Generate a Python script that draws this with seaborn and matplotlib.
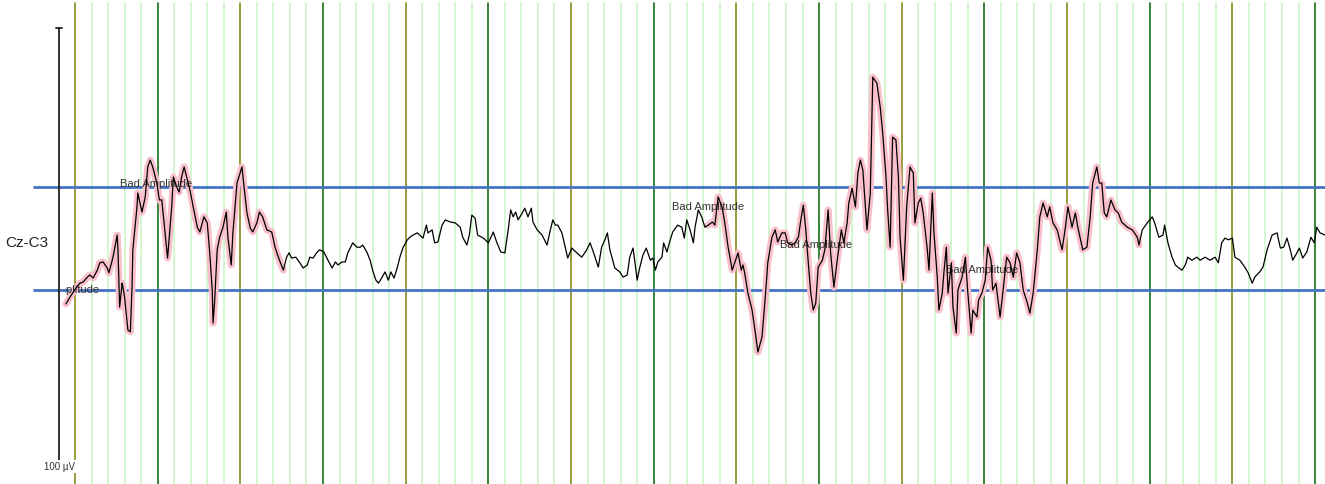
import numpy as np
import pandas as pd
import matplotlib
matplotlib.use("Agg")
import matplotlib.pyplot as plt
import seaborn as sns
from matplotlib.patches import Rectangle

# =========================
# DATA
# =========================

channel = "Cz-C3"
scale_uv = 100            # calibration bar height
threshold_uv = 11.9       # +/- amplitude threshold lines

time_s = [
    -0.11, -0.06, -0.02, 0.02, 0.06, 0.10, 0.15, 0.18, 0.22, 0.27, 0.30, 0.34, 0.39, 0.41,
    0.46, 0.51, 0.52, 0.54, 0.57, 0.58, 0.60, 0.64, 0.67, 0.69, 0.70, 0.75, 0.76, 0.81,
    0.85, 0.88, 0.91, 0.94, 0.99, 1.02, 1.05, 1.09, 1.12, 1.17, 1.19, 1.23, 1.26, 1.29,
    1.32, 1.35, 1.39, 1.43, 1.48, 1.51, 1.56, 1.60, 1.63, 1.66, 1.67, 1.69, 1.72, 1.75,
    1.79, 1.83, 1.85, 1.89, 1.91, 1.96, 2.00, 2.02, 2.04, 2.08, 2.12, 2.15, 2.20, 2.23,
    2.27, 2.32, 2.38, 2.42, 2.46, 2.52,
    2.56, 2.59, 2.62, 2.67, 2.72, 2.76, 2.81, 2.84, 2.88, 2.93, 2.96, 3.01, 3.06, 3.11,
    3.15, 3.18, 3.23, 3.27, 3.30, 3.36, 3.41, 3.45, 3.48, 3.53, 3.57, 3.60, 3.64, 3.67,
    3.71, 3.75, 3.79, 3.82, 3.86, 3.90, 3.93, 3.97, 4.02, 4.05, 4.09, 4.14, 4.17, 4.21,
    4.25, 4.27, 4.32, 4.35, 4.39, 4.44, 4.48, 4.54, 4.60, 4.66, 4.69, 4.74, 4.77, 4.80,
    4.84, 4.87, 4.94, 5.00,
    5.06, 5.10, 5.15, 5.20, 5.24, 5.27, 5.30, 5.33, 5.36, 5.41, 5.44, 5.48, 5.52, 5.54,
    5.59, 5.65, 5.71, 5.75, 5.78, 5.81, 5.84, 5.89, 5.93, 5.96, 6.01, 6.07, 6.13, 6.19,
    6.23, 6.27, 6.33, 6.37, 6.41, 6.44, 6.47, 6.53, 6.59, 6.63, 6.68, 6.71, 6.75, 6.77,
    6.80, 6.83, 6.87, 6.91, 6.96, 6.99, 7.02, 7.05, 7.10, 7.12, 7.16, 7.20, 7.23, 7.29,
    7.34, 7.37, 7.40, 7.44, 7.48, 7.50, 7.54, 7.58, 7.62, 7.66, 7.71, 7.74, 7.78, 7.83,
    7.86, 7.90, 7.95, 7.98, 8.02, 8.06, 8.08, 8.10, 8.14, 8.19, 8.23, 8.26, 8.31, 8.35,
    8.38, 8.43, 8.47, 8.50, 8.55, 8.59, 8.62, 8.67, 8.71, 8.75, 8.78, 8.81, 8.84, 8.87,
    8.90, 8.93, 8.96, 8.99, 9.04, 9.07, 9.11, 9.14, 9.18, 9.22, 9.27, 9.30, 9.34, 9.36,
    9.40, 9.44, 9.47, 9.50, 9.53, 9.58, 9.62, 9.65, 9.70, 9.74, 9.77, 9.81, 9.83, 9.86,
    9.89, 9.93, 9.96, 9.98, 10.02, 10.06, 10.10, 10.14, 10.16, 10.20, 10.23, 10.26, 10.31,
    10.33, 10.37, 10.39, 10.43, 10.45, 10.49, 10.51, 10.54, 10.56, 10.60, 10.62, 10.66,
    10.68, 10.73, 10.77, 10.80, 10.84, 10.86, 10.91, 10.93, 10.97, 11.01, 11.04, 11.08,
    11.10, 11.14, 11.19, 11.23, 11.27, 11.31, 11.35, 11.39, 11.43, 11.47, 11.52, 11.55,
    11.59, 11.64, 11.67, 11.71, 11.76, 11.79, 11.83, 11.88, 11.94, 11.98, 12.01, 12.06,
    12.10, 12.13, 12.19, 12.24, 12.28, 12.31, 12.36, 12.39, 12.42, 12.45, 12.48, 12.53,
    12.58, 12.62, 12.66, 12.73, 12.79, 12.85, 12.87, 12.91, 12.97, 13.03, 13.06, 13.11,
    13.16, 13.18, 13.22, 13.27, 13.31, 13.34, 13.39, 13.43, 13.46, 13.51, 13.57, 13.61,
    13.67, 13.73, 13.79, 13.83, 13.87, 13.91, 13.95, 14.00, 14.03, 14.09, 14.15, 14.19,
    14.24, 14.27, 14.33, 14.37, 14.42, 14.48, 14.54, 14.58, 14.62, 14.66, 14.70, 14.73,
    14.78, 14.81, 14.85, 14.90, 14.95, 14.99, 15.02, 15.06, 15.12,
]

amp_uv = [
    -15.1, -13.5, -12.3, -11.2, -10.3, -10.0, -8.9, -8.4, -9.1, -7.3, -5.6, -5.4, -6.8, -7.9,
    -4.3, 0.8, -2.6, -15.8, -10.3, -11.2, -13.5, -21.1, -21.5, -11.2, -2.6, 7.3, 10.5, 6.1,
    9.6, 16.5, 18.1, 16.5, 12.8, 8.9, 8.9, 1.3, -4.5, 7.3, 14.2, 11.9, 10.7, 14.2,
    16.5, 14.2, 11.2, 7.3, 2.6, 1.5, 5.0, 3.6, -3.3, -11.9, -19.5, -14.2, -2.6, 0.3,
    2.6, 6.1, 0.3, -6.1, 1.3, 12.8, 15.3, 16.5, 12.8, 5.9, 2.4, 1.5, 3.6, 6.1,
    5.0, 2.0, 1.5, -2.0, -4.3, -7.3,
    -4.3, -3.3, -4.5, -4.3, -5.6, -6.8, -6.1, -4.3, -4.5, -3.1, -2.6, -3.1, -5.0, -6.8,
    -5.4, -6.1, -5.4, -5.4, -3.3, -1.0, -2.0, -2.0, -1.5, -3.1, -5.0, -7.3, -9.6, -10.3,
    -9.1, -7.7, -9.6, -7.7, -9.1, -6.6, -4.3, -2.0, -0.3, 0.3, 0.8, 1.3, 0.8, 0.1,
    3.1, 1.3, 2.0, -1.0, -0.8, 3.1, 4.3, 3.8, 3.6, 2.6, 0.3, -1.5, 0.8, 5.4,
    4.7, 0.8, 0.1, -1.0,
    1.5, -0.8, -3.1, -3.3, 2.0, 6.6, 5.0, 6.1, 4.3, 5.9, 7.0, 5.0, 7.0, 3.8,
    2.0, 0.8, -1.5, 2.0, 4.3, 3.1, 3.1, 1.3, -2.0, -4.5, -2.2, -3.3, -4.3, -2.6,
    -1.0, -3.1, -6.6, -2.0, -0.3, 1.3, -2.6, -6.8, -7.7, -8.9, -8.4, -4.3, -2.2, -5.0,
    -9.6, -6.8, -3.8, -2.2, -5.0, -4.5, -7.3, -5.4, -4.3, -1.0, -3.1, -0.3, 1.5, 3.1,
    2.6, 0.1, 4.3, 2.0, -1.0, 2.6, 6.6, 5.0, 2.6, 3.1, 3.8, 3.1, 9.6, 7.0,
    3.6, -2.0, -7.3, -5.6, -3.3, -7.3, -6.1, -7.9, -12.6, -16.5, -21.8, -26.2, -22.7, -13.5,
    -5.6, 0.3, 2.0, -0.8, 1.3, 1.3, -1.0, -1.5, -1.0, 0.3, 4.3, 7.7, 2.0, -5.6,
    -12.6, -16.5, -14.9, -6.6, -5.0, -2.6, 6.6, -3.3, -11.2, -5.0, 2.0, -1.0, 3.6, 8.2,
    11.6, 7.3, 15.1, 18.1, 15.8, 2.0, 10.5, 37.2, 35.8, 30.3, 24.3, 14.2, 6.6, -2.0,
    23.4, 22.7, 14.2, 0.3, -9.6, 7.3, 16.5, 15.1, 3.6, 8.2, 9.3, 5.9, -2.6,
    -7.3, 10.5, 1.3, -8.9, -16.5, -12.6, -7.9, -2.0, -12.6, -5.6, -15.8, -21.8,
    -11.9, -8.9, -4.3, -12.6, -21.8, -16.5, -18.1, -14.2, -12.6, -9.6, -2.0, -5.0,
    -11.9, -10.3, -18.1, -11.2, -4.3, -5.6, -8.9, -3.3, -5.6, -11.9, -14.9, -17.2,
    -12.6, -2.6, 5.0, 8.2, 5.0, 7.3, 3.6, 2.0, -2.6, 2.6, 7.3, 2.6,
    5.9, 2.6, -2.6, -2.0, 5.0, 12.8, 16.5, 12.8, 12.8, 5.9, 5.0, 8.9,
    6.6, 5.9, 3.8, 2.6, 2.0, 0.3, -1.5, 2.0, 3.6, 5.0, 3.6, 0.3,
    0.8, 3.1, -1.0, -4.3, -6.1, -6.6, -7.3, -6.1, -4.3, -5.0, -4.3, -5.0,
    -4.3, -5.0, -4.3, -5.6, -1.0, 0.1, -0.3, 0.1, -4.3, -5.0, -6.6, -7.9,
    -10.3, -8.9, -7.7, -6.6, -2.6, 0.8, 1.3, -2.2, -2.0, 0.1, -2.6, -5.0,
    -3.3, -2.2, -4.5, -3.1, 0.3, -1.0, 2.6, 1.3, 0.8,
]

# artifact ("Bad Amplitude") segments
bad_start = [-0.12, 7.66]
bad_end = [2.52, 12.87]

# annotation text anchors
label_t = [-0.58, 0.54, 7.22, 8.53, 10.54]
label_uv = [-11.9, 12.6, 7.3, -1.5, -7.3]
label_text = "Bad Amplitude"

df = pd.DataFrame({"time": time_s, "amp": amp_uv})

# =========================
# FIGURE
# =========================

sns.set_style("white")
plt.rcParams["font.family"] = ["Liberation Sans", "DejaVu Sans"]

fig = plt.figure(figsize=(13.25, 4.84), dpi=100)
ax = fig.add_axes([0, 0, 1, 1])
ax.set_xlim(-0.907, 15.12)
ax.set_ylim(-56.6, 55.0)
ax.axis("off")

# page grid: 0.2 s minor lines, seconds alternate olive / dark green
minor = np.round(np.arange(0, 15.01, 0.2), 1)
for t in minor:
    if abs(t - round(t)) < 1e-6:
        col = "#8a8a1c" if int(round(t)) % 2 == 0 else "#157015"
        ax.axvline(t, ymax=0.993, color=col, lw=1.2, zorder=1)
    else:
        ax.axvline(t, ymax=0.993, color="#ccf5c8", lw=1.2, zorder=1)

# threshold lines
for thr in (threshold_uv, -threshold_uv):
    ax.plot([-0.508, 15.12], [thr, thr], color="#4472c4", lw=2.0, zorder=3,
            solid_capstyle="butt")

# highlighted artifact segments
for s, e in zip(bad_start, bad_end):
    seg = df[(df["time"] >= s) & (df["time"] <= e)]
    sns.lineplot(data=seg, x="time", y="amp", ax=ax, color="#f9bfca",
                 lw=5.0, estimator=None, zorder=4, legend=False)

# annotations (first one is cut off where the record starts)
for i, (t, v) in enumerate(zip(label_t, label_uv)):
    txt = ax.text(t, v, label_text, fontsize=8, color="#333333",
                  ha="left", va="center", zorder=5)
    if i == 0:
        clip = Rectangle((bad_start[0], -60), 20, 120, transform=ax.transData)
        txt.set_clip_on(True)
        txt.set_clip_path(clip)

# EEG trace
sns.lineplot(data=df, x="time", y="amp", ax=ax, color="black", lw=0.9,
             estimator=None, zorder=6, legend=False)

# calibration bar
bar_t = -0.194
top = (scale_uv / 2) - 1.5
bot = top - scale_uv
ax.plot([bar_t, bar_t], [bot, top], color="#222222", lw=1.3, zorder=3)
ax.plot([bar_t - 0.035, bar_t + 0.035], [top, top], color="#222222", lw=1.3, zorder=3)
ax.plot([bar_t - 0.035, bar_t + 0.035], [bot, bot], color="#222222", lw=1.3, zorder=3)
ax.text(bar_t + 0.01, bot - 1.1, f"{scale_uv} µV", fontsize=7, color="#333333",
        ha="center", va="center", zorder=4,
        bbox=dict(facecolor="white", edgecolor="none", pad=1))

# channel label
ax.text(-0.847, -1.0, channel, fontsize=11, color="#222222",
        ha="left", va="center", zorder=4)

ax.set_xlabel("")
ax.set_ylabel("")

plt.savefig("out.png", dpi=100)
